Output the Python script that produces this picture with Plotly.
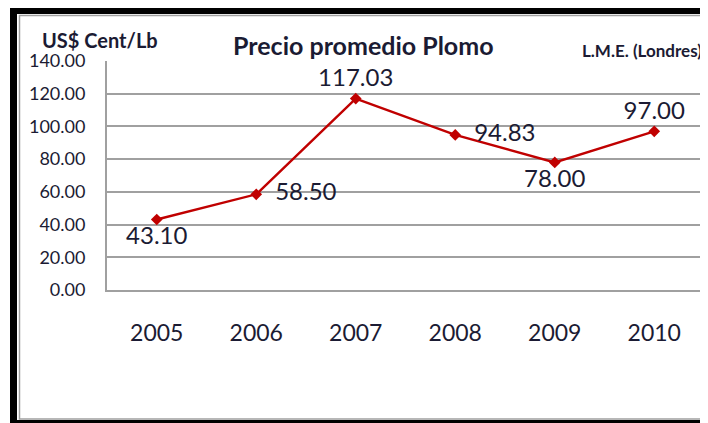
import plotly.graph_objects as go

years = ["2005", "2006", "2007", "2008", "2009", "2010"]
prices = [43.10, 58.50, 117.03, 94.83, 78.00, 97.00]
label_pos = ["bottom center", "middle right", "top center", "middle right", "bottom center", "top center"]
y_ticks = [0, 20, 40, 60, 80, 100, 120, 140]

OFF = 8  # page body margin
W, H = 708 - OFF, 423 - OFF
# plot area in reference-picture pixels
L, R, T, B = 107, 704, 61, 290

def px(x):
    return (x - L) / (R - L)

def py(y):
    return (B - y) / (B - T)

font = "Lato, 'Open Sans', sans-serif"
txtc = "#1b1b33"

labels = [("\u00a0\u00a0" if p == "middle right" else "") + f"{v:.2f}" for v, p in zip(prices, label_pos)]

fig = go.Figure()
fig.add_trace(go.Scatter(
    x=years, y=prices, mode="lines+markers+text",
    line=dict(color="#c00000", width=2.4),
    marker=dict(symbol="diamond", size=9, color="#c00000"),
    text=labels, textposition=label_pos,
    textfont=dict(size=24, color=txtc, family=font),
    cliponaxis=False, showlegend=False,
))

fig.update_layout(
    width=W, height=H,
    margin=dict(l=L - OFF, r=708 - R, t=T - OFF, b=423 - B),
    paper_bgcolor="white", plot_bgcolor="white",
    font=dict(family=font, color=txtc),
    xaxis=dict(type="category", range=[-0.5, 5.5], showgrid=False, showline=True,
               linecolor="#a0a0a0", linewidth=2, mirror=False, ticks="",
               tickfont=dict(size=23, color=txtc), ticklabelstandoff=21, fixedrange=True),
    yaxis=dict(range=[0, 140], tickvals=y_ticks, ticktext=[f"{v:.2f}" for v in y_ticks],
               showgrid=True, gridcolor="#a0a0a0", gridwidth=1.5, showline=True,
               linecolor="#a0a0a0", linewidth=2, ticks="", zeroline=False,
               tickfont=dict(size=18, color=txtc), ticklabelstandoff=16, fixedrange=True),
)

shapes = []
# black frame bands
shapes.append(dict(type="rect", xref="paper", yref="paper", x0=px(10), x1=px(17), y0=py(423), y1=py(7),
                   fillcolor="black", line=dict(width=0), layer="above"))
shapes.append(dict(type="rect", xref="paper", yref="paper", x0=px(10), x1=px(708), y0=py(14), y1=py(7),
                   fillcolor="black", line=dict(width=0), layer="above"))
shapes.append(dict(type="rect", xref="paper", yref="paper", x0=px(10), x1=px(708), y0=py(423), y1=py(420),
                   fillcolor="black", line=dict(width=0), layer="above"))
# gray inner frame
shapes.append(dict(type="rect", xref="paper", yref="paper", x0=px(19.5), x1=px(704), y0=py(419), y1=py(15.5),
                   fillcolor="rgba(0,0,0,0)", line=dict(color="#a0a0a0", width=1.5), layer="above"))
fig.update_layout(shapes=shapes)

fig.add_annotation(text="<b>US$ Cent/Lb</b>", xref="paper", yref="paper", x=px(40), y=py(40),
                   xanchor="left", yanchor="middle", showarrow=False,
                   font=dict(size=20, color=txtc, family=font))
fig.add_annotation(text="<b>Precio promedio Plomo</b>", xref="paper", yref="paper", x=px(363), y=py(45),
                   xanchor="center", yanchor="middle", showarrow=False,
                   font=dict(size=25, color=txtc, family=font))
fig.add_annotation(text="<b>L.M.E. (Londres)</b>", xref="paper", yref="paper", x=px(704), y=py(51),
                   xanchor="right", yanchor="middle", showarrow=False,
                   font=dict(size=17, color=txtc, family=font))

fig.write_html("out.html")
